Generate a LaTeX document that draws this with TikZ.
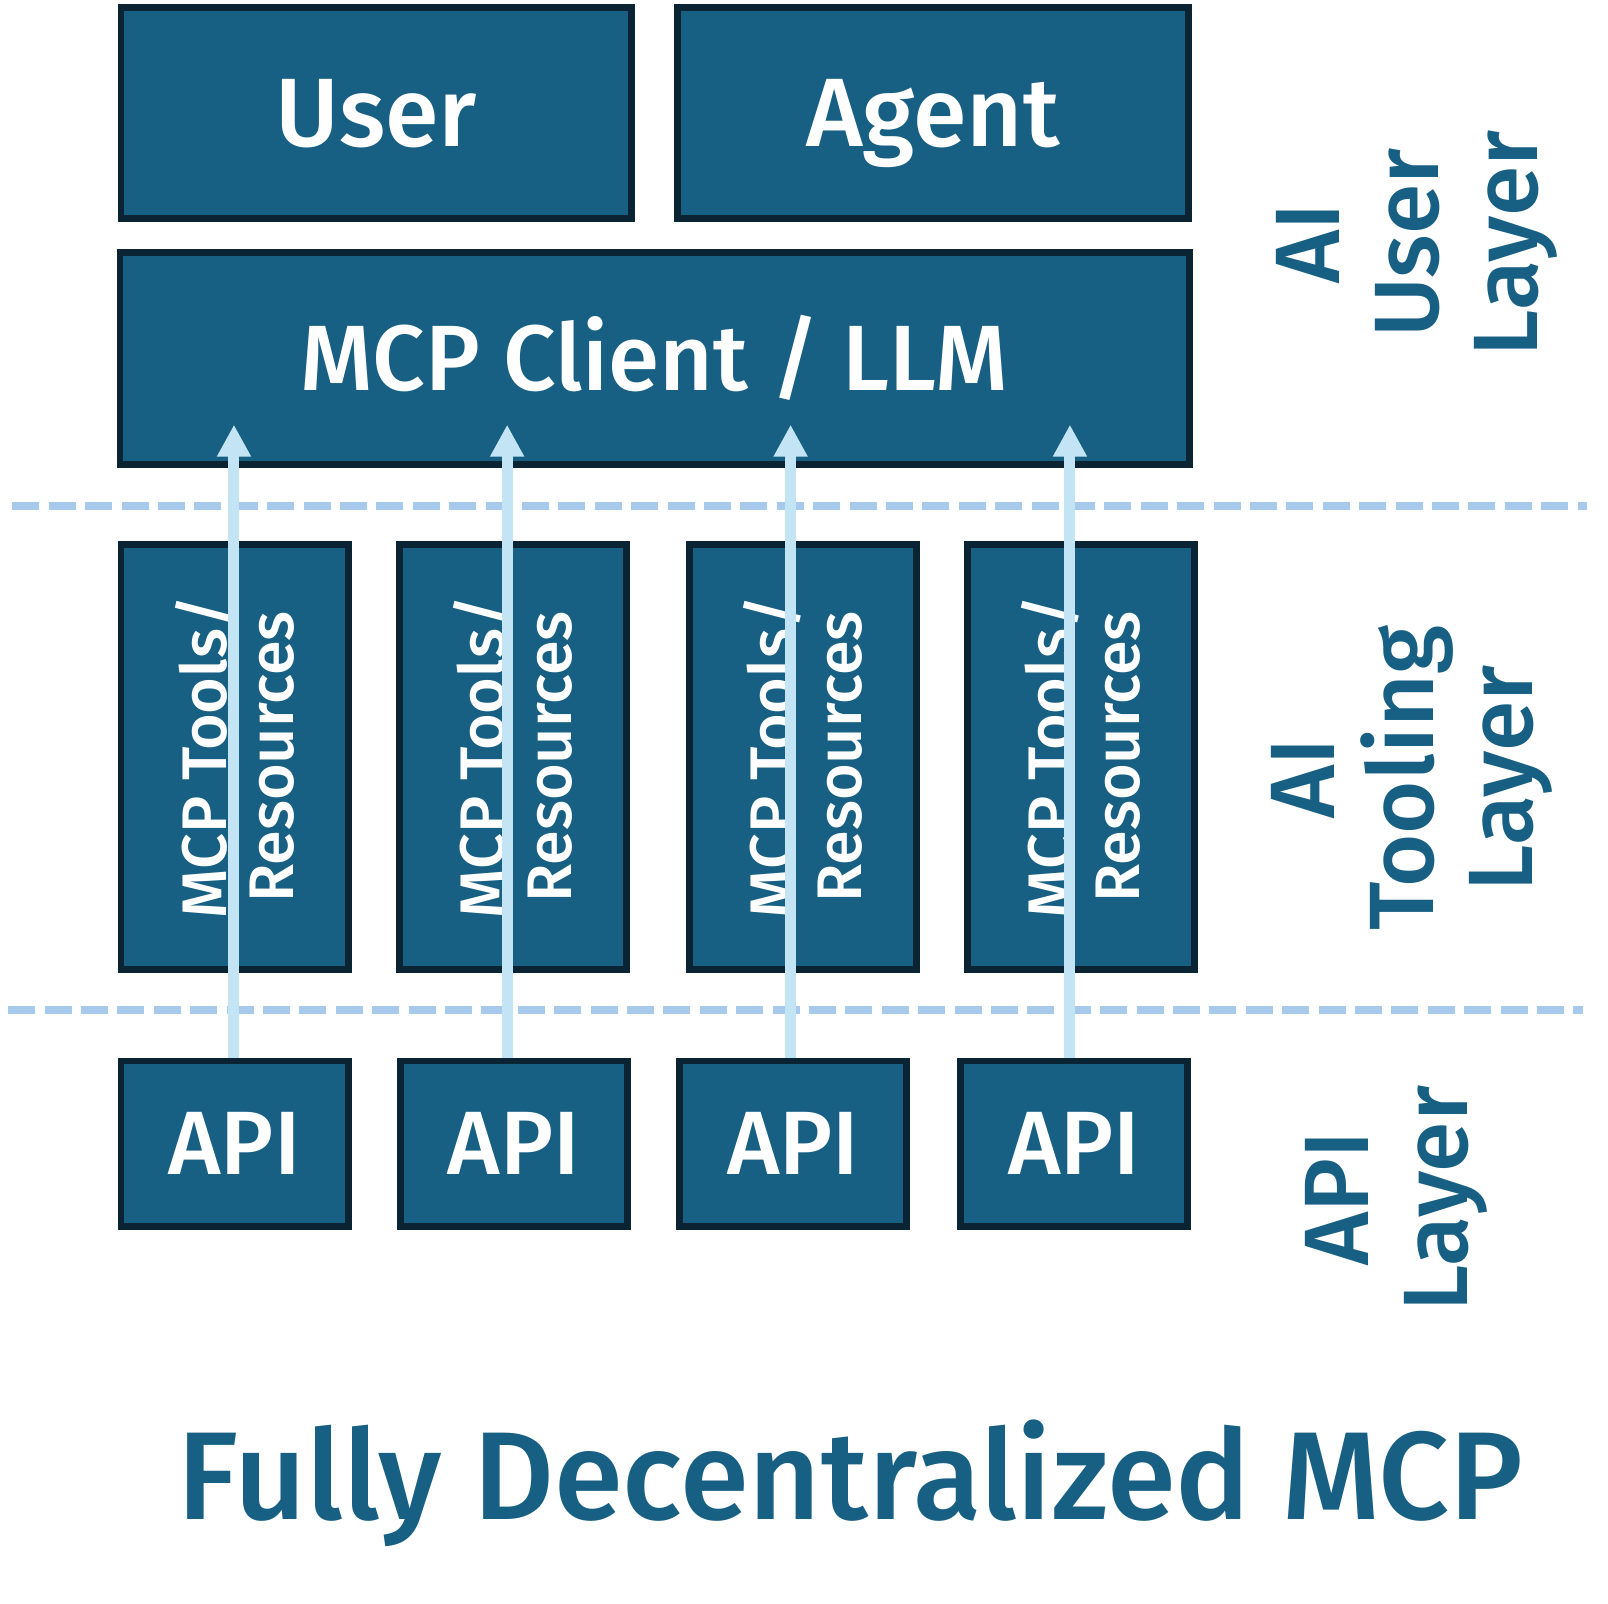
\documentclass[tikz,border=0pt]{standalone}
\usepackage{fontspec}
\setmainfont{Fira Sans Medium}
\usetikzlibrary{arrows.meta}
\definecolor{boxblue}{HTML}{186083}
\definecolor{boxedge}{HTML}{0A2434}
\definecolor{dashblue}{HTML}{A7C9EB}
\definecolor{flowblue}{HTML}{C2E4F4}
\tikzset{
  block/.style  = {draw=boxedge, fill=boxblue, line width=3.4pt, rectangle, inner sep=0pt, text=white},
  wide/.style   = {block, minimum width=255.3pt, minimum height=105.4pt,
                   font=\fontsize{48.6}{52}\selectfont, text height=33.5pt, text depth=0pt},
  client/.style = {block, minimum width=534.6pt, minimum height=105.9pt,
                   font=\fontsize{46.4}{50}\selectfont, text height=32pt, text depth=0pt},
  tool/.style   = {block, rotate=90, minimum width=212.6pt, minimum height=113.6pt,
                   align=center, font=\fontsize{31.5}{33.5}\selectfont},
  api/.style    = {block, minimum width=113.6pt, minimum height=82.6pt,
                   font=\fontsize{45}{48}\selectfont, text height=31pt, text depth=0pt},
  layer/.style  = {rotate=90, align=center, text=boxblue, inner sep=0pt,
                   font=\fontsize{45.7}{49.5}\selectfont},
  title/.style  = {text=boxblue, inner sep=0pt, font=\fontsize{62.5}{66}\selectfont,
                   text height=43pt, text depth=0pt},
  divider/.style= {draw=dashblue, line width=4pt, dash pattern=on 13.5pt off 4.7pt},
  flow/.style   = {draw=flowblue, line width=5.5pt, -{Triangle[width=16pt, length=16pt]}},
}

\begin{document}
\begin{tikzpicture}[x=0.5154pt, y=-0.5154pt]
    \useasboundingbox (0,0) rectangle (1560,1556);

    % AI user layer
    \node [wide] (user) at (365,109.5) {User};
    \node [wide] (agent) at (905,109.5) {Agent};
    \node [client] (llm) at (635,348) {MCP Client / LLM};

    \draw [divider] (12,491) -- (1540,491);

    % AI tooling layer
    \node [tool] (tool1) at (227.5,734.5) {MCP Tools/\\Resources};
    \node [tool] (tool2) at (497.5,734.5) {MCP Tools/\\Resources};
    \node [tool] (tool3) at (779,734.5) {MCP Tools/\\Resources};
    \node [tool] (tool4) at (1048.5,734.5) {MCP Tools/\\Resources};

    \draw [divider] (8,980) -- (1536,980);

    % API layer
    \node [api] (api1) at (227.5,1109.5) {API};
    \node [api] (api2) at (498.5,1109.5) {API};
    \node [api] (api3) at (769.5,1109.5) {API};
    \node [api] (api4) at (1042,1109.5) {API};

    % arrow tips inside the client box
    \coordinate (tip1) at (227,412);
    \coordinate (tip2) at (492,412);
    \coordinate (tip3) at (767,412);
    \coordinate (tip4) at (1038,412);
    \draw [flow] (tip1 |- api1.north) -- (tip1);
    \draw [flow] (tip2 |- api2.north) -- (tip2);
    \draw [flow] (tip3 |- api3.north) -- (tip3);
    \draw [flow] (tip4 |- api4.north) -- (tip4);

    % layer names
    \node [layer] (userlayer) at (1375,236) {AI\\User\\Layer};
    \node [layer] (toollayer) at (1370,755) {AI\\Tooling\\Layer};
    \node [layer] (apilayer) at (1355,1163) {API\\Layer};

    \node [title] (caption) at (825,1432.5) {Fully Decentralized MCP};
\end{tikzpicture}
\end{document}
